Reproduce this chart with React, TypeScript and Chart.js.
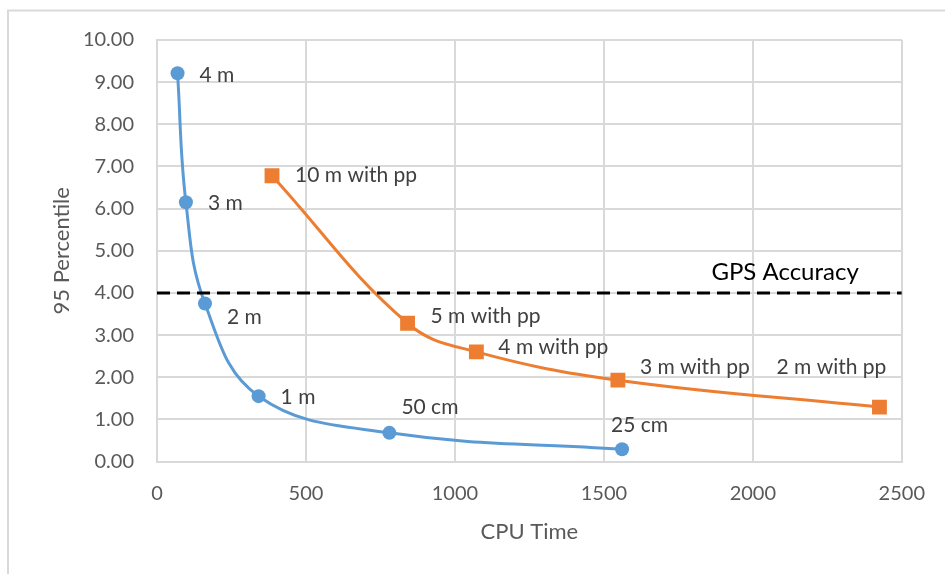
import React, { useEffect, useRef } from "react";
import { Chart, registerables } from "chart.js";

Chart.register(...registerables);

// ---- data ----
const blueX = [69, 97, 161, 341, 780, 1561];
const blueY = [9.21, 6.15, 3.75, 1.55, 0.68, 0.29];
const blueLabels = ["4 m", "3 m", "2 m", "1 m", "50 cm", "25 cm"];

const orangeX = [386, 841, 1072, 1547, 2425];
const orangeY = [6.78, 3.28, 2.6, 1.93, 1.29];
const orangeLabels = ["10 m with pp", "5 m with pp", "4 m with pp", "3 m with pp", "2 m with pp"];

const gpsX = [0, 2500];
const gpsY = [4, 4];
const gpsLabel = "GPS Accuracy";

const xTicks = [0, 500, 1000, 1500, 2000, 2500];
const yTicks = [0, 1, 2, 3, 4, 5, 6, 7, 8, 9, 10];

const xTitle = "CPU Time";
const yTitle = "95 Percentile";

// ---- styles ----
const FONT = "Lato, 'Open Sans', sans-serif";
const BLUE = "#5B9BD5";
const ORANGE = "#ED7D31";
const GRID = "#d9d9d9";

// label offsets (pixels relative to point), styling only
const blueOffsets = [[22, 2], [22, 1], [22, 14], [22, 1], [12, -26], [-11, -24]];
const orangeOffsets = [[23, 0], [23, -7], [22, -5], [22, -13], [-103, -40]];

const labelPlugin = {
  id: "pointLabels",
  afterDatasetsDraw(chart: any) {
    const ctx = chart.ctx;
    ctx.save();
    ctx.textBaseline = "middle";
    ctx.font = `21px ${FONT}`;
    ctx.fillStyle = "#404040";
    ctx.textAlign = "left";
    const bm = chart.getDatasetMeta(1).data;
    blueLabels.forEach((t, i) => {
      const p = bm[i];
      ctx.fillText(t, p.x + blueOffsets[i][0], p.y + blueOffsets[i][1]);
    });
    const om = chart.getDatasetMeta(2).data;
    orangeLabels.forEach((t, i) => {
      const p = om[i];
      ctx.fillText(t, p.x + orangeOffsets[i][0], p.y + orangeOffsets[i][1]);
    });
    const gm = chart.getDatasetMeta(0).data;
    const last = gm[gm.length - 1];
    ctx.font = `24px ${FONT}`;
    ctx.fillStyle = "#000000";
    ctx.textAlign = "right";
    ctx.fillText(gpsLabel, last.x - 43, last.y - 21);
    ctx.restore();
  },
};

const framePlugin = {
  id: "frame",
  beforeDraw(chart: any) {
    const ctx = chart.ctx;
    ctx.save();
    ctx.fillStyle = "#ffffff";
    ctx.fillRect(0, 0, chart.width, chart.height);
    ctx.strokeStyle = GRID;
    ctx.lineWidth = 2;
    ctx.strokeRect(8, 10.5, 1200, 1200);
    ctx.restore();
  },
};

export default function App() {
  const ref = useRef<HTMLCanvasElement>(null);
  useEffect(() => {
    document.body.style.margin = "0";
    const chart = new Chart(ref.current as HTMLCanvasElement, {
      type: "scatter",
      data: {
        datasets: [
          {
            label: gpsLabel,
            data: gpsX.map((x, i) => ({ x, y: gpsY[i] })),
            showLine: true,
            borderColor: "#000000",
            borderWidth: 3,
            borderDash: [13, 7],
            pointRadius: 0,
            order: 0,
          },
          {
            label: "blue",
            data: blueX.map((x, i) => ({ x, y: blueY[i] })),
            showLine: true,
            borderColor: BLUE,
            backgroundColor: BLUE,
            borderWidth: 3,
            pointRadius: 7,
            pointBorderWidth: 0,
            pointStyle: "circle",
            tension: 0.4,
            order: 1,
          },
          {
            label: "orange",
            data: orangeX.map((x, i) => ({ x, y: orangeY[i] })),
            showLine: true,
            borderColor: ORANGE,
            backgroundColor: ORANGE,
            borderWidth: 3,
            pointRadius: 10.5,
            pointBorderWidth: 0,
            pointStyle: "rect",
            tension: 0.4,
            order: 1,
          },
        ],
      },
      options: {
        responsive: false,
        animation: false,
        layout: { padding: { left: 0, top: 40, right: 41, bottom: 0 } },
        plugins: { legend: { display: false }, tooltip: { enabled: false } },
        scales: {
          x: {
            type: "linear",
            min: 0,
            max: 2500,
            afterBuildTicks: (axis: any) => {
              axis.ticks = xTicks.map((v) => ({ value: v }));
            },
            afterFit: (axis: any) => {
              axis.height = 112.5;
            },
            grid: { color: GRID, lineWidth: 2, drawTicks: false },
            border: { color: GRID, width: 2 },
            ticks: {
              padding: 20,
              color: "#595959",
              font: { family: FONT, size: 20 },
              maxRotation: 0,
              callback: (v: any) => String(v),
            },
            title: {
              display: true,
              text: xTitle,
              color: "#595959",
              font: { family: FONT, size: 22 },
              padding: { top: 0, bottom: 29 },
            },
          },
          y: {
            type: "linear",
            min: 0,
            max: 10,
            afterBuildTicks: (axis: any) => {
              axis.ticks = yTicks.map((v) => ({ value: v }));
            },
            afterFit: (axis: any) => {
              axis.width = 157;
            },
            grid: { color: GRID, lineWidth: 2, drawTicks: false },
            border: { color: GRID, width: 2 },
            ticks: {
              padding: 23,
              color: "#595959",
              font: { family: FONT, size: 20 },
              callback: (v: any) => Number(v).toFixed(2),
            },
            title: {
              display: true,
              text: yTitle,
              color: "#595959",
              font: { family: FONT, size: 22 },
              padding: { top: 49, bottom: 0 },
            },
          },
        },
      },
      plugins: [framePlugin, labelPlugin],
    } as any);
    return () => chart.destroy();
  }, []);
  return (
    <canvas
      ref={ref}
      width={945}
      height={574}
      style={{ display: "block", width: 945, height: 574 }}
    />
  );
}
